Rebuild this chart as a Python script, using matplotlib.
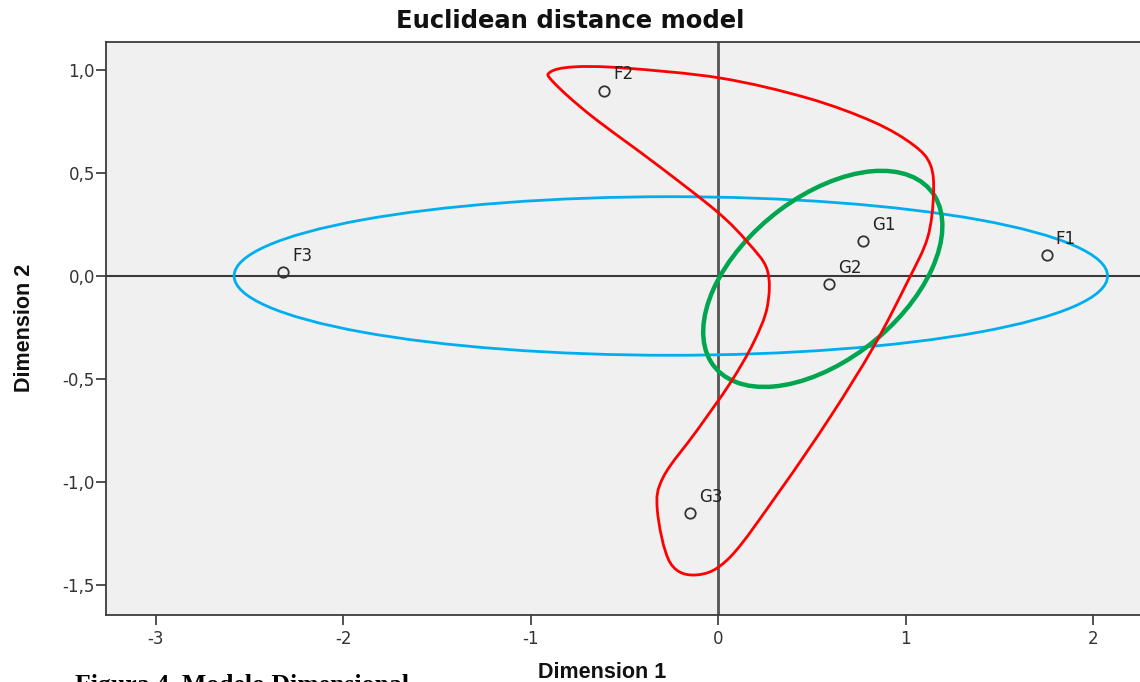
import numpy as np
import matplotlib
matplotlib.use("Agg")
import matplotlib.pyplot as plt
from matplotlib.patches import Ellipse, PathPatch
from matplotlib.path import Path

plt.rcParams['font.family'] = ['DejaVu Sans']

# ---- data ----
labels = ["F1", "F2", "F3", "G1", "G2", "G3"]
dim1 = [1.75, -0.61, -2.32, 0.77, 0.59, -0.15]
dim2 = [0.10, 0.90, 0.02, 0.17, -0.04, -1.15]

xticks = [-3, -2, -1, 0, 1, 2]
xtick_labels = ["-3", "-2", "-1", "0", "1", "2"]
yticks = [-1.5, -1.0, -0.5, 0.0, 0.5, 1.0]
ytick_labels = ["-1,5", "-1,0", "-0,5", "0,0", "0,5", "1,0"]

# blue ellipse (F group): centre, width, height, angle
blue_center = (-0.253, 0.0)
blue_size = (4.656, 0.77)
blue_angle = 0.0

# green ellipse (G1, G2 group)
green_center = (0.557, -0.014)
green_size = (1.439, 0.810)
green_angle = 34.1

# red closed curve (anchor points)
red_x = [-0.896, -0.773, -0.507, 0.011, 0.475, 0.827, 1.040, 1.131, 1.147, 1.115,
         1.008, 0.827, 0.597, 0.331, 0.064, -0.112, -0.256, -0.325, -0.293, -0.112,
         0.064, 0.187, 0.261, 0.261, 0.155, -0.005, -0.325, -0.683, -0.880]
red_y = [0.990, 1.015, 1.010, 0.961, 0.864, 0.748, 0.636, 0.539, 0.393, 0.184,
         -0.029, -0.345, -0.684, -1.039, -1.364, -1.451, -1.393, -1.136, -0.976, -0.748,
         -0.519, -0.325, -0.150, 0.029, 0.165, 0.311, 0.539, 0.782, 0.942]

# ---- figure ----
W, H = 1140, 682
fig = plt.figure(figsize=(W / 100, H / 100), dpi=100)
left, right, top, bottom = 106, 1152, 42, 615
ax = fig.add_axes([left / W, 1 - bottom / H, (right - left) / W, (bottom - top) / H])
ax.set_facecolor('#f0f0f0')
ax.set_xlim(-3.264, 2.312)
ax.set_ylim(-1.646, 1.136)

ax.axhline(0, color='#3a3a3a', lw=1.5, zorder=1)
ax.axvline(0, color='#555555', lw=2.0, zorder=1)

ax.add_patch(Ellipse(blue_center, blue_size[0], blue_size[1], angle=blue_angle,
                     fill=False, edgecolor='#00aeef', lw=2.0, zorder=3))
ax.add_patch(Ellipse(green_center, green_size[0], green_size[1], angle=green_angle,
                     fill=False, edgecolor='#00a64f', lw=3.2, zorder=3))

# red smooth closed curve via cubic Bezier (Catmull-Rom control points)
P = np.column_stack([red_x, red_y])
n = len(P)
verts = [P[0]]
codes = [Path.MOVETO]
for i in range(n):
    p0, p1, p2, p3 = P[i - 1], P[i], P[(i + 1) % n], P[(i + 2) % n]
    c1 = p1 + (p2 - p0) / 6.0
    c2 = p2 - (p3 - p1) / 6.0
    verts += [c1, c2, p2]
    codes += [Path.CURVE4] * 3
ax.add_patch(PathPatch(Path(verts, codes), fill=False, edgecolor='#ff0000', lw=2.0, zorder=3))

ax.plot(dim1, dim2, linestyle='none', marker='o', markersize=7.5, markerfacecolor='none',
        markeredgecolor='#333333', markeredgewidth=1.3, zorder=4)
for lab, x, y in zip(labels, dim1, dim2):
    ax.annotate(lab, (x, y), xytext=(6.5, 8), textcoords='offset points',
                fontsize=12, color='#222222', va='baseline', ha='left', zorder=5)

ax.set_xticks(xticks)
ax.set_xticklabels(xtick_labels)
ax.set_yticks(yticks)
ax.set_yticklabels(ytick_labels)
ax.tick_params(axis='both', direction='out', length=7, width=1.2, color='#333333',
               labelsize=12, labelcolor='#333333', pad=1)
ax.tick_params(axis='x', pad=4)
for s in ['left', 'top', 'bottom']:
    ax.spines[s].set_color('#3c3c3c')
    ax.spines[s].set_linewidth(1.3)
ax.spines['right'].set_visible(False)

fig.text(570 / W, 1 - 21 / H, "Euclidean distance model", ha='center', va='center',
         fontsize=17.5, fontweight='bold', color='#111111')
fig.text(602 / W, 1 - 672 / H, "Dimension 1", ha='center', va='center',
         fontsize=15.5, fontweight='bold', color='#111111', family=['Liberation Sans'])
fig.text(25 / W, 1 - 328 / H, "Dimension 2", ha='center', va='center', rotation=90,
         fontsize=15.5, fontweight='bold', color='#111111', family=['Liberation Sans'])
fig.text(75 / W, -10 / H, "Figura 4. Modelo Dimensional", ha='left', va='baseline',
         fontsize=18.5, fontweight='bold', family=['Liberation Serif', 'DejaVu Serif'],
         color='#000000')

fig.savefig("out.png", dpi=100)
